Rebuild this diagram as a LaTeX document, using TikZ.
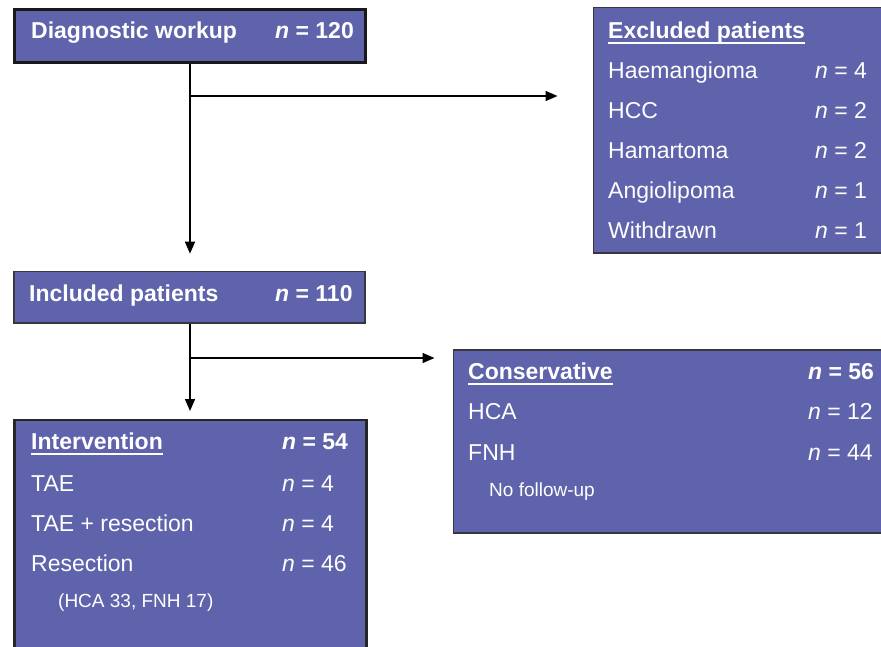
\documentclass[tikz,border=0pt]{standalone}
\usepackage{fontspec}
\setmainfont{Liberation Sans}
\usepackage{tikz}
\usetikzlibrary{positioning, arrows.meta, calc}
\definecolor{panel}{RGB}{95,99,171}
\definecolor{edge}{RGB}{55,55,60}
\newcommand{\ulhead}[1]{\setbox0\hbox{#1}\rlap{\vrule height -3.5pt depth 5.5pt width \wd0}\box0}
\newcommand{\nval}[1]{\textit{n} = #1}

\begin{document}
\begin{tikzpicture}[x=1pt, y=-1pt,
  box/.style={draw=edge, line width=1.5pt, fill=panel, rectangle, inner sep=0pt, anchor=north west},
  heavy/.style={box, draw=black!90, line width=3pt},
  lbl/.style={text=white, font=\fontsize{23}{27}\selectfont, inner sep=0pt, anchor=base west},
  note/.style={lbl, font=\fontsize{19}{23}\selectfont},
  arr/.style={-{Triangle[length=12pt, width=10pt]}, line width=1.5pt}]
\useasboundingbox (0,0) rectangle (881,646);
% boxes
\node[heavy, minimum width=350.3pt, minimum height=53pt] (diag) at (13.2,7.5) {};
\node[box, minimum width=292.5pt, minimum height=245.2pt] (excl) at (592.5,6.8) {};
\node[box, minimum width=350.9pt, minimum height=51.6pt] (incl) at (13.4,270.7) {};
\node[box, minimum width=432.5pt, minimum height=183pt] (cons) at (452.5,349) {};
\node[heavy, draw=black!85, line width=2.5pt, minimum width=352.4pt, minimum height=231.5pt] (interv) at (13,418.5) {};
% diagnostic workup
\node[lbl, font=\fontsize{23}{27}\selectfont\bfseries] (diagt) at (31,38) {Diagnostic workup};
\node[lbl, font=\fontsize{23}{27}\selectfont\bfseries] (diagn) at (275,38) {\nval{120}};
% excluded
\node[lbl, font=\fontsize{23}{27}\selectfont\bfseries] (exh) at (608,38) {\ulhead{Excluded patients}};
\foreach \nm/\val [count=\i] in {Haemangioma/4, HCC/2, Hamartoma/2, Angiolipoma/1, Withdrawn/1} {
  \node[lbl] (ex\i) at (608,38+40*\i) {\nm};
  \node[lbl] (exn\i) at (815,38+40*\i) {\nval{\val}};
}
% included
\node[lbl, font=\fontsize{23}{27}\selectfont\bfseries] (inclt) at (29,301) {Included patients};
\node[lbl, font=\fontsize{23}{27}\selectfont\bfseries] (incln) at (275,301) {\nval{110}};
% conservative
\node[lbl, font=\fontsize{23}{27}\selectfont\bfseries] (consh) at (468,379) {\ulhead{Conservative}};
\node[lbl, font=\fontsize{23}{27}\selectfont\bfseries] (consn) at (808,379) {\nval{56}};
\node[lbl] (cons1) at (468,419) {HCA};
\node[lbl] (consn1) at (808,419) {\nval{12}};
\node[lbl] (cons2) at (468,460) {FNH};
\node[lbl] (consn2) at (808,460) {\nval{44}};
\node[note] (consf) at (489,496) {No follow-up};
% intervention
\node[lbl, font=\fontsize{23}{27}\selectfont\bfseries] (intvh) at (31,449) {\ulhead{Intervention}};
\node[lbl, font=\fontsize{23}{27}\selectfont\bfseries] (intvn) at (282,449) {\nval{54}};
\node[lbl] (intv1) at (31,491) {TAE};
\node[lbl] (intvn1) at (282,491) {\nval{4}};
\node[lbl] (intv2) at (31,531) {TAE + resection};
\node[lbl] (intvn2) at (282,531) {\nval{4}};
\node[lbl] (intv3) at (31,571) {Resection};
\node[lbl] (intvn3) at (282,571) {\nval{46}};
\node[note] (intvs) at (58,607) {(HCA 33, FNH 17)};
% connectors
\coordinate (b1) at (190,96);
\coordinate (b2) at (190,358);
\draw[arr, shorten >=17pt] (b1 |- diag.south) -- (b1 |- incl.north);
\draw[arr, shorten >=35pt] (b1) -- (b1 -| excl.west);
\draw[arr, shorten >=7.5pt] (b2 |- incl.south) -- (b2 |- interv.north);
\draw[arr, shorten >=18pt] (b2) -- (b2 -| cons.west);
\end{tikzpicture}
\end{document}
